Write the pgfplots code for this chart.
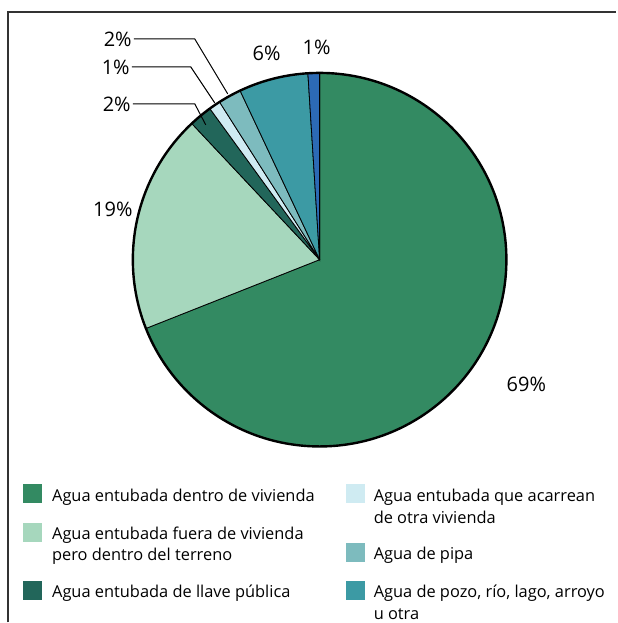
\documentclass[border=0pt]{standalone}
\usepackage{pgfplots}
\pgfplotsset{compat=1.18}
\usepackage{fontspec}
\setmainfont{Open Sans}
\definecolor{c1}{HTML}{338A62}
\definecolor{c2}{HTML}{A6D7BD}
\definecolor{c3}{HTML}{22665A}
\definecolor{c4}{HTML}{CFEBF2}
\definecolor{c5}{HTML}{7DBBBE}
\definecolor{c6}{HTML}{3C9AA4}
\definecolor{c7}{HTML}{2C6AB5}
% slice: cumulative start %, cumulative end %, colour
\newcommand{\slice}[3]{%
  \filldraw[fill=#3, draw=black, line width=0.8bp]
    (axis cs:320,363) -- (axis cs:{320+187*cos(90-3.6*#1)},{363+187*sin(90-3.6*#1)})
    arc[start angle={90-3.6*#1}, end angle={90-3.6*#2}, radius=187bp] -- cycle;
}
\newcommand{\legfont}{\fontsize{16.4bp}{21bp}\selectfont}
\newcommand{\pcfont}{\fontsize{20bp}{22bp}\selectfont}
\begin{document}
\begin{tikzpicture}
\begin{axis}[
  width=617bp, height=623bp, scale only axis,
  xmin=0, xmax=617, ymin=0, ymax=623,
  hide axis, clip=false,
]
\path (axis cs:0,0) rectangle (axis cs:617,623);
% frame
\draw[line width=1.5bp, black!80] (axis cs:8,0) -- (axis cs:8,611) -- (axis cs:617,611);
% pie slices (values: 69, 19, 2, 1, 2, 6, 1)
\slice{0}{69}{c1}
\slice{69}{88}{c2}
\slice{88}{90}{c3}
\slice{90}{91}{c4}
\slice{91}{93}{c5}
\slice{93}{99}{c6}
\slice{99}{100}{c7}
\draw[line width=2.4bp] (axis cs:320,363) circle[radius=187bp];
% leader lines
\draw[line width=1bp] (axis cs:134,584) -- (axis cs:195,584) -- (axis cs:228,529);
\draw[line width=1bp] (axis cs:132,556) -- (axis cs:191,556) -- (axis cs:215,520);
\draw[line width=1bp] (axis cs:133,519) -- (axis cs:195,519) -- (axis cs:206,498);
% percentage labels
\node[anchor=east, inner sep=1bp, font=\pcfont] at (axis cs:133,584) {2\%};
\node[anchor=east, inner sep=1bp, font=\pcfont] at (axis cs:131,556) {1\%};
\node[anchor=east, inner sep=1bp, font=\pcfont] at (axis cs:132,519) {2\%};
\node[font=\pcfont] at (axis cs:267,570) {6\%};
\node[font=\pcfont] at (axis cs:317,576) {1\%};
\node[font=\pcfont] at (axis cs:113,413) {19\%};
\node[font=\pcfont] at (axis cs:527,238) {69\%};
% legend
\fill[c1] (axis cs:23,119) rectangle (axis cs:42,138);
\fill[c2] (axis cs:23,80) rectangle (axis cs:42,99);
\fill[c3] (axis cs:23,22) rectangle (axis cs:42,41);
\fill[c4] (axis cs:346,119) rectangle (axis cs:365,138);
\fill[c5] (axis cs:346,60) rectangle (axis cs:365,79);
\fill[c6] (axis cs:346,22) rectangle (axis cs:365,41);
\node[anchor=base west, inner sep=0pt, font=\legfont] at (axis cs:52,121) {Agua entubada dentro de vivienda};
\node[anchor=base west, inner sep=0pt, font=\legfont] at (axis cs:52,83) {Agua entubada fuera de vivienda};
\node[anchor=base west, inner sep=0pt, font=\legfont] at (axis cs:52,62) {pero dentro del terreno};
\node[anchor=base west, inner sep=0pt, font=\legfont] at (axis cs:52,25) {Agua entubada de llave pública};
\node[anchor=base west, inner sep=0pt, font=\legfont] at (axis cs:374,121) {Agua entubada que acarrean};
\node[anchor=base west, inner sep=0pt, font=\legfont] at (axis cs:374,99) {de otra vivienda};
\node[anchor=base west, inner sep=0pt, font=\legfont] at (axis cs:374,63) {Agua de pipa};
\node[anchor=base west, inner sep=0pt, font=\legfont] at (axis cs:374,25) {Agua de pozo, río, lago, arroyo};
\node[anchor=base west, inner sep=0pt, font=\legfont] at (axis cs:374,3) {u otra};
\end{axis}
\end{tikzpicture}
\end{document}
